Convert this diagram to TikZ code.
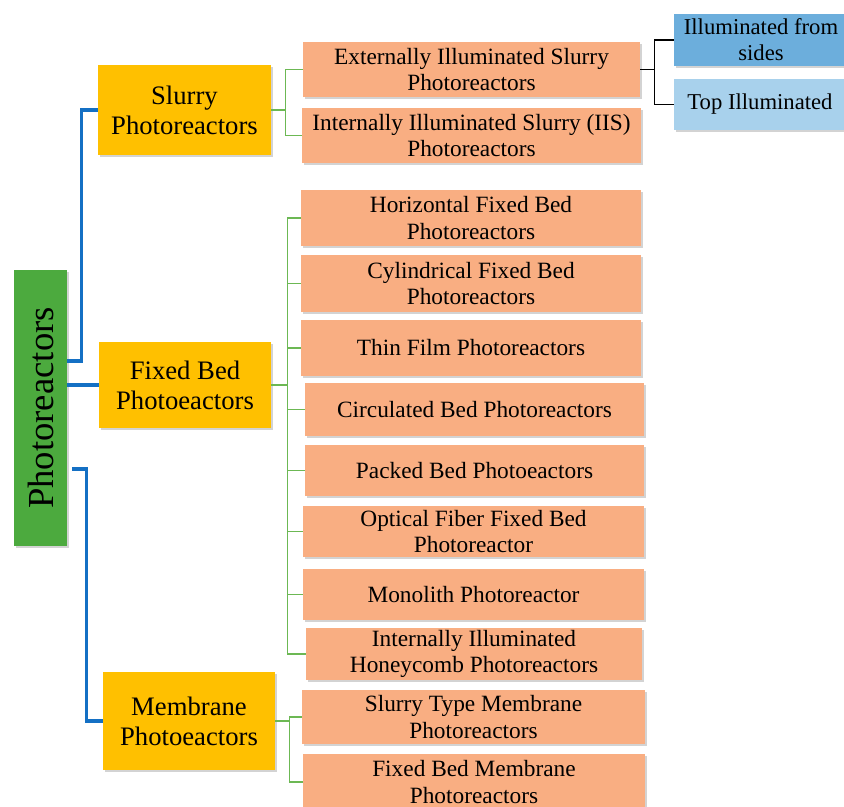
\documentclass[tikz,border=0pt]{standalone}
\usepackage{fontspec}
\setmainfont{Liberation Serif}
\usetikzlibrary{calc,shadows}
\definecolor{rootgreen}{RGB}{76,170,62}
\definecolor{gold}{RGB}{255,192,0}
\definecolor{salmon}{RGB}{249,174,130}
\definecolor{skyA}{RGB}{108,174,220}
\definecolor{skyB}{RGB}{168,209,236}
\definecolor{lineblue}{RGB}{20,112,196}
\definecolor{linegreen}{RGB}{108,184,84}
\begin{document}
\begin{tikzpicture}[x=0.75pt, y=-0.75pt,
  sz/.style 2 args={minimum width=#1*0.75pt, minimum height=#2*0.75pt},
  box/.style={inner sep=1pt, align=center, drop shadow={shadow xshift=1.5pt, shadow yshift=-1.5pt, opacity=0.35}},
  main/.style={box, fill=gold, font=\fontsize{20}{22.5}\selectfont},
  sub/.style={box, fill=salmon, font=\fontsize{17.5}{20}\selectfont},
  leaf/.style={box, font=\fontsize{17}{19.5}\selectfont},
  bline/.style={lineblue, line width=2.3pt},
  gline/.style={linegreen, line width=1pt},
  kline/.style={black, line width=1.1pt}]
\useasboundingbox (0,0) rectangle (844,807);
\node[box, fill=rootgreen, rotate=90, sz={276}{53}, font=\fontsize{27.5}{32}\selectfont] (root) at (40.5,408) {Photoreactors};
\node[main, sz={173}{90}] (slurry) at (184.5,110) {Slurry\\Photoreactors};
\node[main, sz={172}{86}] (fixed) at (185,385) {Fixed Bed\\Photoeactors};
\node[main, sz={172}{98}] (membrane) at (189,721) {Membrane\\Photoeactors};
\foreach \nm/\cx/\cy/\bw/\bh/\txt in {
  ext/471.5/69.5/337/55/{Externally Illuminated Slurry\\Photoreactors},
  iis/471.5/135.5/339/55/{Internally Illuminated Slurry (IIS)\\Photoreactors},
  horiz/471/218/340/56/{Horizontal Fixed Bed\\Photoreactors},
  cyl/471/283.5/340/57/{Cylindrical Fixed Bed\\Photoreactors},
  thin/471/348/340/56/{Thin Film Photoreactors},
  circ/474.5/409.5/339/53/{Circulated Bed Photoreactors},
  packed/474.5/470.5/339/51/{Packed Bed Photoeactors},
  optical/473.5/531.5/341/51/{Optical Fiber Fixed Bed\\Photoreactor},
  mono/473.5/594.5/341/51/{Monolith Photoreactor},
  honey/474/654/336/52/{Internally Illuminated\\Honeycomb Photoreactors},
  stm/473.5/717/343/54/{Slurry Type Membrane\\Photoreactors},
  fbm/474/782/342/56/{Fixed Bed Membrane\\Photoreactors}} {
  \node[sub, sz={\bw}{\bh}] (\nm) at (\cx,\cy) {\txt};
}
\node[leaf, fill=skyA, sz={174}{52}] (sides) at (761,40) {Illuminated from\\sides};
\node[leaf, fill=skyB, sz={172}{51}] (topill) at (760,104.5) {Top Illuminated};
\draw[bline] ($(root.south)+(0,-47)$) -- ++(14,0) |- (slurry.west);
\draw[bline] (root.south |- fixed.west) -- (fixed.west);
\draw[bline] ($(root.south)+(5,61)$) -- ++(14,0) |- (membrane.west);
\draw[gline] (slurry.east) -- ++(14,0) |- (ext.west);
\draw[gline] (slurry.east) -- ++(14,0) |- (iis.west);
\foreach \nm in {horiz,cyl,thin,circ,packed,optical,mono,honey}
  \draw[gline] (fixed.east) -- ++(16,0) |- (\nm.west);
\draw[gline] (membrane.east) -- ++(14,0) |- (stm.west);
\draw[gline] (membrane.east) -- ++(14,0) |- (fbm.west);
\draw[kline] (ext.east) -- ++(14,0) |- (sides.west);
\draw[kline] (ext.east) -- ++(14,0) |- (topill.west);
\end{tikzpicture}
\end{document}
